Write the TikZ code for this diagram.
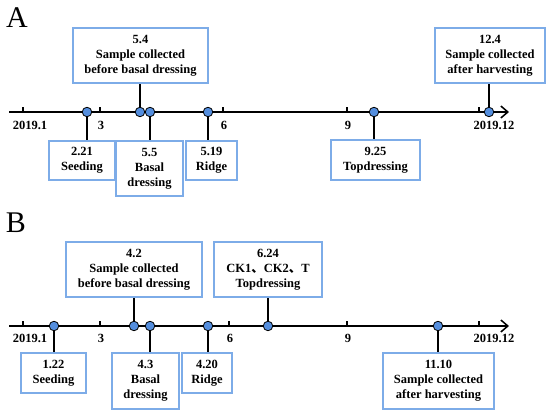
\documentclass[tikz,border=0pt]{standalone}
\usepackage{fontspec}
\setmainfont{Liberation Serif}
\newfontfamily\cjk{Noto Sans CJK SC}
\usetikzlibrary{arrows.meta}
\definecolor{boxblue}{RGB}{125,172,232}
\definecolor{dotblue}{RGB}{84,142,222}
\tikzset{
  lbl/.style={font=\fontsize{12.5}{15}\selectfont\bfseries, align=center, inner sep=0pt},
  evbox/.style={draw=boxblue, line width=1.2pt, fill=white, align=center, inner sep=0pt,
     font=\fontsize{12.5}{15}\selectfont\bfseries},
  evdot/.style={circle, draw=black, line width=0.8pt, fill=dotblue, minimum size=9.5pt, inner sep=0pt},
  axisline/.style={line width=1.5pt, -{Straight Barb[length=7pt,width=12pt,line width=1.5pt]}},
  conn/.style={line width=1.5pt},
  tickmark/.style={line width=1.1pt},
  panel/.style={font=\fontsize{30}{30}\selectfont, inner sep=0pt},
}
\begin{document}
\begin{tikzpicture}[x=1pt,y=-1pt]
\useasboundingbox (0,0) rectangle (550,417);
\fill[white] (0,0) rectangle (550,417);

% ---------------- Panel A ----------------
\node[panel] (pA) at (17,18) {A};
\coordinate (axA0) at (9,112);
\coordinate (axA1) at (509,112);
\draw[axisline] (axA0) -- (axA1);
\foreach \x [count=\i] in {23,100,223,347,479}{
  \coordinate (tA\i) at (\x,112);
  \draw[tickmark] (tA\i) -- ++(0,-4.5);
}
\node[lbl] (lA1) at (30,125) {2019.1};
\node[lbl] (lA2) at (101,125) {3};
\node[lbl] (lA3) at (224,125) {6};
\node[lbl] (lA4) at (348,125) {9};
\node[lbl] (lA5) at (494,125) {2019.12};

\coordinate (dA1) at (87,112);
\coordinate (dA2) at (140,112);
\coordinate (dA3) at (150,112);
\coordinate (dA4) at (208,112);
\coordinate (dA5) at (374,112);
\coordinate (dA6) at (489,112);

\node[evbox, minimum width=135pt, minimum height=55pt] (bA2) at (140.5,55.5)
  {5.4\\Sample collected\\before basal dressing};
\node[evbox, minimum width=110pt, minimum height=55pt] (bA6) at (490,55.5)
  {12.4\\Sample collected\\after harvesting};
\node[evbox, minimum width=66pt, minimum height=39pt] (bA1) at (82,160.5)
  {2.21\\Seeding};
\node[evbox, minimum width=67pt, minimum height=55pt] (bA3) at (149.5,168.5)
  {5.5\\Basal\\dressing};
\node[evbox, minimum width=51pt, minimum height=39pt] (bA4) at (211.5,160.5)
  {5.19\\Ridge};
\node[evbox, minimum width=89pt, minimum height=40pt] (bA5) at (375.5,160)
  {9.25\\Topdressing};

\draw[conn] (dA2) -- (dA2 |- bA2.south);
\draw[conn] (dA6) -- (dA6 |- bA6.south);
\draw[conn] (dA1) -- (dA1 |- bA1.north);
\draw[conn] (dA3) -- (dA3 |- bA3.north);
\draw[conn] (dA4) -- (dA4 |- bA4.north);
\draw[conn] (dA5) -- (dA5 |- bA5.north);
\foreach \i in {1,...,6}{ \node[evdot] (nA\i) at (dA\i) {}; }

% ---------------- Panel B ----------------
\node[panel] (pB) at (16,223) {B};
\coordinate (axB0) at (9,326);
\coordinate (axB1) at (509,326);
\draw[axisline] (axB0) -- (axB1);
\foreach \x [count=\i] in {23,100,229,347,479}{
  \coordinate (tB\i) at (\x,326);
  \draw[tickmark] (tB\i) -- ++(0,-4.5);
}
\node[lbl] (lB1) at (30,338) {2019.1};
\node[lbl] (lB2) at (101,338) {3};
\node[lbl] (lB3) at (230,338) {6};
\node[lbl] (lB4) at (348,338) {9};
\node[lbl] (lB5) at (494,338) {2019.12};

\coordinate (dB1) at (54,326);
\coordinate (dB2) at (134,326);
\coordinate (dB3) at (150,326);
\coordinate (dB4) at (208,326);
\coordinate (dB5) at (268,326);
\coordinate (dB6) at (438,326);

\node[evbox, minimum width=136pt, minimum height=55pt] (bB2) at (134,269.5)
  {4.2\\Sample collected\\before basal dressing};
\node[evbox, minimum width=108pt, minimum height=55pt] (bB5) at (268,269.5)
  {6.24\\CK1{\cjk 、}CK2{\cjk 、}T\\Topdressing};
\node[evbox, minimum width=65pt, minimum height=40pt] (bB1) at (53.5,373)
  {1.22\\Seeding};
\node[evbox, minimum width=67pt, minimum height=56pt] (bB3) at (145.5,381)
  {4.3\\Basal\\dressing};
\node[evbox, minimum width=50pt, minimum height=40pt] (bB4) at (207,373)
  {4.20\\Ridge};
\node[evbox, minimum width=111pt, minimum height=56pt] (bB6) at (438.5,381)
  {11.10\\Sample collected\\after harvesting};

\draw[conn] (dB2) -- (dB2 |- bB2.south);
\draw[conn] (dB5) -- (dB5 |- bB5.south);
\draw[conn] (dB1) -- (dB1 |- bB1.north);
\draw[conn] (dB3) -- (dB3 |- bB3.north);
\draw[conn] (dB4) -- (dB4 |- bB4.north);
\draw[conn] (dB6) -- (dB6 |- bB6.north);
\foreach \i in {1,...,6}{ \node[evdot] (nB\i) at (dB\i) {}; }
\end{tikzpicture}
\end{document}
